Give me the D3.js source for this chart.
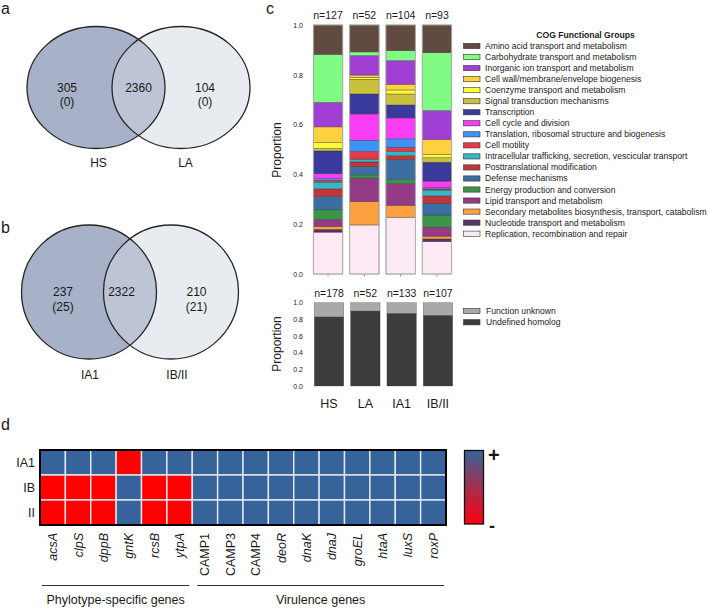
<!DOCTYPE html>
<html><head><meta charset="utf-8">
<script src="https://cdn.jsdelivr.net/npm/d3@7"></script>
<style>
body{margin:0;background:#fff}
svg{display:block}
text{font-family:"Liberation Sans",Arial,Helvetica,sans-serif;fill:#1a1a1a}
</style>
</head><body>
<svg id="chart" width="708" height="608"></svg>
<script>
// ---------------- DATA ----------------
const groups = ["HS", "LA", "IA1", "IB/II"];
const cogN = [127, 52, 104, 93];
const unkN = [178, 52, 133, 107];

const cogCategories = [
  "Amino acid transport and metabolism",
  "Carbohydrate transport and metabolism",
  "Inorganic ion transport and metabolism",
  "Cell wall/membrane/envelope biogenesis",
  "Coenzyme transport and metabolism",
  "Signal transduction mechanisms",
  "Transcription",
  "Cell cycle and division",
  "Translation, ribosomal structure and biogenesis",
  "Cell motility",
  "Intracellular trafficking, secretion, vescicular transport",
  "Posttranslational modification",
  "Defense mechanisms",
  "Energy production and conversion",
  "Lipid transport and metabolism",
  "Secondary metabolites biosynthesis, transport, catabolism",
  "Nucleotide transport and metabolism",
  "Replication, recombination and repair"
];
const cogColors = ["#614a3f","#80fc85","#a13fd4","#fdd13f","#fdfc3b","#c9c03d","#3a3a9c","#fb3cf5",
  "#3d93f5","#e8384a","#36b6c6","#c0363a","#3b6fa4","#3c9448","#953a86","#fda040","#5a3466","#fde9f3"];

// proportions of each COG group, per genome group (same order as cogCategories)
const cogHS   = [0.118,0.193,0.098,0.063,0.024,0.010,0.091,0.020,0.007,0.007,0.027,0.031,0.053,0.040,0.027,0.012,0.011,0.168];
const cogLA   = [0.108,0.015,0.078,0.009,0.008,0.059,0.080,0.106,0.045,0.031,0.011,0.019,0.033,0.013,0.094,0.094,0.000,0.197];
const cogIA1  = [0.103,0.040,0.095,0.023,0.016,0.044,0.052,0.084,0.034,0.016,0.018,0.016,0.080,0.016,0.087,0.048,0.000,0.228];
const cogIBII = [0.111,0.233,0.116,0.060,0.013,0.018,0.076,0.026,0.005,0.005,0.023,0.030,0.047,0.049,0.036,0.011,0.011,0.130];

const unkCategories = ["Function unknown", "Undefined homolog"];
const unkColors = ["#a9a9a9", "#3c3c3c"];
const undefinedHomolog = [0.830, 0.900, 0.873, 0.849];

// Venn diagrams
const vennALabels = ["HS", "LA"];
const vennAValues = ["305", "2360", "104"];
const vennASub = ["(0)", "", "(0)"];
const vennBLabels = ["IA1", "IB/II"];
const vennBValues = ["237", "2322", "210"];
const vennBSub = ["(25)", "", "(21)"];

// Heatmap
const genes = ["acsA","clpS","dppB","gntK","rcsB","ytpA","CAMP1","CAMP3","CAMP4","deoR","dnaK","dnaJ","groEL","htaA","luxS","roxP"];
const italicGenes = ["acsA","clpS","dppB","gntK","rcsB","ytpA","deoR","dnaK","dnaJ","groEL","htaA","luxS","roxP"];
const heatRows = ["IA1", "IB", "II"];
const heatIA1 = [1,1,1,0,1,1,1,1,1,1,1,1,1,1,1,1];
const heatIB  = [0,0,0,1,0,0,1,1,1,1,1,1,1,1,1,1];
const heatII  = [0,0,0,1,0,0,1,1,1,1,1,1,1,1,1,1];
const geneGroups = ["Phylotype-specific genes", "Virulence genes"];
const geneGroupSpans = [["acsA","ytpA"], ["CAMP1","roxP"]];

// ---------------- DRAW ----------------
const svg = d3.select("#chart");

// panel letters
function letter(t, x, y){ svg.append("text").attr("x",x).attr("y",y).attr("font-size",16)
  .attr("font-family","Open Sans, Liberation Sans, sans-serif").text(t); }
letter("a", 1, 14); letter("b", 1, 233); letter("c", 266, 14); letter("d", 1, 430);

// Venn
let clipId = 0;
function venn(cx1, cx2, cy, rx, ry, labels, values, subs, textX, labelY){
  const g = svg.append("g");
  const id = "vclip" + (clipId++);
  g.append("clipPath").attr("id", id).append("ellipse").attr("cx",cx2).attr("cy",cy).attr("rx",rx).attr("ry",ry);
  g.append("ellipse").attr("cx",cx2).attr("cy",cy).attr("rx",rx).attr("ry",ry).attr("fill","#e8ecf0");
  g.append("ellipse").attr("cx",cx1).attr("cy",cy).attr("rx",rx).attr("ry",ry).attr("fill","#a7b1c8");
  g.append("ellipse").attr("cx",cx1).attr("cy",cy).attr("rx",rx).attr("ry",ry).attr("fill","#bcc4d5").attr("clip-path","url(#"+id+")");
  g.append("ellipse").attr("cx",cx1).attr("cy",cy).attr("rx",rx).attr("ry",ry).attr("fill","none").attr("stroke","#262626").attr("stroke-width",1.3);
  g.append("ellipse").attr("cx",cx2).attr("cy",cy).attr("rx",rx).attr("ry",ry).attr("fill","none").attr("stroke","#262626").attr("stroke-width",1.3);
  values.forEach((v,i)=>{
    g.append("text").attr("x",textX[i]).attr("y",cy+4).attr("text-anchor","middle").attr("font-size",12).text(v);
    if (subs[i]) g.append("text").attr("x",textX[i]).attr("y",cy+18.5).attr("text-anchor","middle").attr("font-size",12).text(subs[i]);
  });
  g.append("text").attr("x",(cx1+cx2)/2 - 40).attr("y",labelY).attr("text-anchor","middle").attr("font-size",12).text(labels[0]);
  g.append("text").attr("x",(cx1+cx2)/2 + 47).attr("y",labelY).attr("text-anchor","middle").attr("font-size",12).text(labels[1]);
}
venn(96, 181, 87.5, 69, 61, vennALabels, vennAValues, vennASub, [67, 138.5, 205], 167);
venn(89, 171, 292, 67.5, 67, vennBLabels, vennBValues, vennBSub, [63, 121.5, 196.5], 379);

// ---- Panel c: stacked COG bars
const x = d3.scaleBand().domain(groups).range([309.7, 455.3]).paddingInner(0.19).paddingOuter(0.1);
const yTop = d3.scaleLinear().domain([0,1]).range([274, 25]);
const yBot = d3.scaleLinear().domain([0,1]).range([386, 302.7]);

const cogSeries = [cogHS, cogLA, cogIA1, cogIBII];
const cogTable = groups.map((g,gi)=>{
  const row = {group:g};
  cogCategories.forEach((c,ci)=> row[c] = cogSeries[gi][ci]);
  return row;
});
const stackKeys = cogCategories.slice().reverse();
const cogStack = d3.stack().keys(stackKeys)(cogTable);
const colorOf = d3.scaleOrdinal().domain(cogCategories).range(cogColors);

const gc = svg.append("g");
cogStack.forEach(layer=>{
  gc.selectAll(null).data(layer).join("rect")
    .attr("x", d=>x(d.data.group)).attr("width", x.bandwidth())
    .attr("y", d=>yTop(d[1])).attr("height", d=>Math.max(0, yTop(d[0]) - yTop(d[1])))
    .attr("fill", colorOf(layer.key))
    .attr("stroke", "rgba(40,40,40,0.55)").attr("stroke-width", 0.6);
});
gc.selectAll(null).data(groups).join("rect")
  .attr("x", d=>x(d)).attr("width", x.bandwidth()).attr("y", yTop(1)).attr("height", yTop(0)-yTop(1))
  .attr("fill","none").attr("stroke","#b0b0b0").attr("stroke-width",0.9);

// n labels
gc.selectAll(null).data(groups).join("text")
  .attr("x", d=>x(d)+x.bandwidth()/2).attr("y", 19).attr("text-anchor","middle").attr("font-size",10.5)
  .text((d,i)=>"n="+cogN[i]);

function yAxis(scale, xPos){
  const a = svg.append("g").attr("transform",`translate(${xPos},0)`)
    .call(d3.axisLeft(scale).tickValues([0,0.2,0.4,0.6,0.8,1]).tickFormat(d3.format(".1f")).tickSize(0).tickPadding(3));
  a.select(".domain").remove();
  a.selectAll("text").attr("font-size",7).attr("font-family","Liberation Sans, Arial, sans-serif").attr("fill","#333");
}
yAxis(yTop, 306);
yAxis(yBot, 306);

// small bottom ticks
const tb = svg.append("g").attr("transform",`translate(0,${yTop(0)+0.5})`)
  .call(d3.axisBottom(x).tickSize(2).tickFormat(""));
tb.select(".domain").remove();
tb.selectAll("line").attr("stroke","#888");

svg.append("text").attr("transform","translate(281,150) rotate(-90)").attr("text-anchor","middle")
  .attr("font-size",12).text("Proportion");
svg.append("text").attr("transform","translate(281,344) rotate(-90)").attr("text-anchor","middle")
  .attr("font-size",12).text("Proportion");

// legend COG
const legFont = 8.6;
const lg = svg.append("g");
lg.append("text").attr("x",585.5).attr("y",38).attr("text-anchor","middle").attr("font-size",legFont)
  .attr("font-weight","bold").attr("font-family","DejaVu Sans, sans-serif").text("COG Functional Groups");
cogCategories.forEach((c,i)=>{
  const yy = 46 + i*11.04;
  lg.append("rect").attr("x",463.5).attr("y",yy-2.6).attr("width",16.5).attr("height",5.2)
    .attr("fill",cogColors[i]).attr("stroke","#333").attr("stroke-width",0.6);
  lg.append("text").attr("x",485).attr("y",yy+3).attr("font-size",legFont)
    .attr("font-family","DejaVu Sans, sans-serif").attr("fill","#333").text(c);
});

// ---- Panel c bottom: unknown function bars
const unkTable = groups.map((g,i)=>({group:g, "Undefined homolog":undefinedHomolog[i], "Function unknown":1-undefinedHomolog[i]}));
const unkStack = d3.stack().keys(["Undefined homolog","Function unknown"])(unkTable);
const unkColor = d3.scaleOrdinal().domain(unkCategories).range(unkColors);
const gu = svg.append("g");
unkStack.forEach(layer=>{
  gu.selectAll(null).data(layer).join("rect")
    .attr("x", d=>x(d.data.group)+1).attr("width", x.bandwidth())
    .attr("y", d=>yBot(d[1])).attr("height", d=>yBot(d[0])-yBot(d[1]))
    .attr("fill", unkColor(layer.key)).attr("stroke","rgba(60,60,60,0.6)").attr("stroke-width",0.5);
});
gu.selectAll(null).data(groups).join("text")
  .attr("x", d=>x(d)+x.bandwidth()/2+1).attr("y", 297).attr("text-anchor","middle").attr("font-size",10.5)
  .text((d,i)=>"n="+unkN[i]);
gu.selectAll(null).data(groups).join("text")
  .attr("x", d=>x(d)+x.bandwidth()/2+1).attr("y", 407.5).attr("text-anchor","middle").attr("font-size",12.5)
  .text(d=>d);
unkCategories.forEach((c,i)=>{
  const yy = 311 + i*11.3;
  lg.append("rect").attr("x",463.5).attr("y",yy-2.6).attr("width",16.5).attr("height",5.2)
    .attr("fill",unkColors[i]).attr("stroke","#333").attr("stroke-width",0.6);
  lg.append("text").attr("x",486).attr("y",yy+3).attr("font-size",legFont)
    .attr("font-family","DejaVu Sans, sans-serif").attr("fill","#333").text(c);
});

// ---- Panel d: heatmap
const hx = d3.scaleBand().domain(genes).range([40, 446]);
const hy = d3.scaleBand().domain(heatRows).range([450, 525]);
const heatColor = d3.scaleOrdinal().domain([0,1]).range(["#fe0000","#36649a"]);
const heatSeries = [heatIA1, heatIB, heatII];
const heatCells = [];
heatRows.forEach((r,ri)=> genes.forEach((g,gi)=> heatCells.push({row:r, gene:g, v:heatSeries[ri][gi]})));
const gh = svg.append("g");
gh.selectAll(null).data(heatCells).join("rect")
  .attr("x", d=>hx(d.gene)).attr("y", d=>hy(d.row)).attr("width", hx.bandwidth()).attr("height", hy.bandwidth())
  .attr("fill", d=>heatColor(d.v)).attr("stroke","#e6e8ee").attr("stroke-width",1.4);
gh.append("rect").attr("x",40).attr("y",450).attr("width",406).attr("height",75)
  .attr("fill","none").attr("stroke","#000").attr("stroke-width",2);
gh.selectAll(null).data(heatRows).join("text")
  .attr("x",35).attr("y", d=>hy(d)+hy.bandwidth()/2+4.5).attr("text-anchor","end").attr("font-size",12.5).text(d=>d);
gh.selectAll(null).data(genes).join("text")
  .attr("transform", d=>`translate(${hx(d)+hx.bandwidth()/2+4.5},533) rotate(-90)`)
  .attr("text-anchor","end").attr("font-size",12.5)
  .attr("font-style", d=>italicGenes.includes(d) ? "italic" : "normal").text(d=>d);
geneGroups.forEach((gname,i)=>{
  const x0 = hx(geneGroupSpans[i][0]) + (i===0 ? 2 : 5);
  const x1 = hx(geneGroupSpans[i][1]) + hx.bandwidth() - (i===0 ? 3 : 2);
  gh.append("line").attr("x1",x0).attr("x2",x1).attr("y1",585.5).attr("y2",585.5).attr("stroke","#333").attr("stroke-width",1.1);
  gh.append("text").attr("x",(x0+x1)/2).attr("y",604).attr("text-anchor","middle").attr("font-size",12.5).text(gname);
});

// colour bar
const defs = svg.append("defs");
const grad = defs.append("linearGradient").attr("id","cbar").attr("x1",0).attr("x2",0).attr("y1",0).attr("y2",1);
grad.append("stop").attr("offset","0%").attr("stop-color","#36649a");
grad.append("stop").attr("offset","50%").attr("stop-color","#a22f4f");
grad.append("stop").attr("offset","100%").attr("stop-color","#fe0010");
svg.append("rect").attr("x",464.5).attr("y",450.5).attr("width",19).attr("height",73.5)
  .attr("fill","url(#cbar)").attr("stroke","#111").attr("stroke-width",1.3);
svg.append("text").attr("x",488).attr("y",462).attr("font-size",20).attr("font-weight","bold").text("+");
svg.append("text").attr("x",489).attr("y",532).attr("font-size",18).attr("font-weight","bold").text("-");
</script>
</body></html>
